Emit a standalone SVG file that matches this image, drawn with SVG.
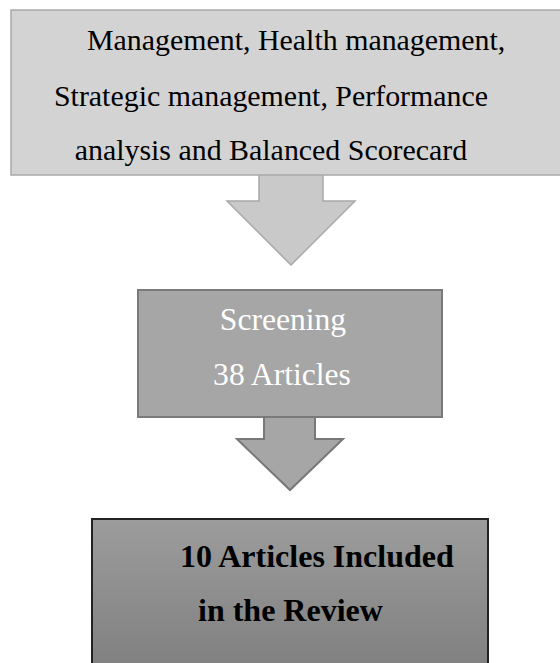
<svg xmlns="http://www.w3.org/2000/svg" width="560" height="663" viewBox="0 0 560 663">
  <defs>
    <linearGradient id="g3" x1="0" y1="0" x2="0" y2="1">
      <stop offset="0" stop-color="#9c9c9c"/>
      <stop offset="1" stop-color="#7e7e7e"/>
    </linearGradient>
  </defs>
  <style>
    .t { font-family: "Liberation Serif", "Times New Roman", serif; }
    .s1 { font-size: 29.9px; fill: #000; }
    .s2 { font-size: 31.6px; fill: #ffffff; }
    .s3 { font-size: 32px; font-weight: bold; fill: #000; }
  </style>
  <rect width="560" height="663" fill="#ffffff"/>
  <g id="connectors">
    <polygon points="259,174 323,174 323,201 355,201 291,265 227,201 259,201" fill="#c9c9c9" stroke="#a8a8a8" stroke-width="1.5"/>
    <polygon points="264,416 315,416 315,439 343,439 290,490 237,439 264,439" fill="#a6a6a6" stroke="#787878" stroke-width="2"/>
  </g>
  <g id="node1">
    <rect x="11" y="10" width="560" height="165" fill="#d3d3d3" stroke="#a9a9a9" stroke-width="1.5"/>
    <text class="t s1" x="87" y="50">Management, Health management,</text>
    <text class="t s1" x="271" y="106" text-anchor="middle">Strategic management, Performance</text>
    <text class="t s1" x="271" y="160" text-anchor="middle">analysis and Balanced Scorecard</text>
  </g>
  <g id="node2">
    <rect x="138" y="290" width="304" height="127" fill="#a6a6a6" stroke="#7a7a7a" stroke-width="2"/>
    <text class="t s2" x="283" y="330" text-anchor="middle">Screening</text>
    <text class="t s2" x="282" y="385" text-anchor="middle">38 Articles</text>
  </g>
  <g id="node3">
    <rect x="92" y="519" width="396" height="160" fill="url(#g3)" stroke="#222222" stroke-width="2"/>
    <text class="t s3" x="180" y="567">10 Articles Included</text>
    <text class="t s3" x="198" y="621">in the Review</text>
  </g>
</svg>
